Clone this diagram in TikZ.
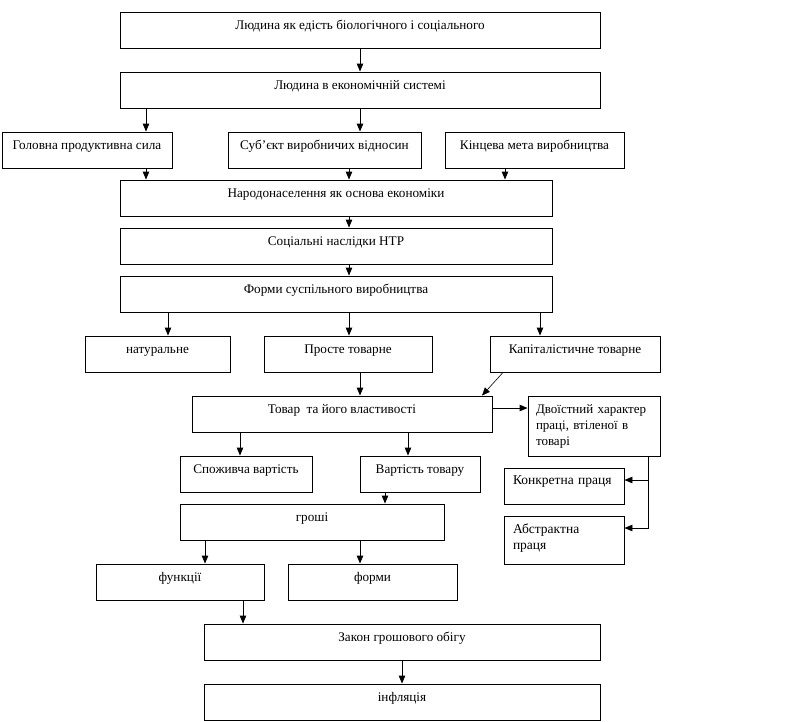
\documentclass[tikz,border=0pt]{standalone}
\usepackage{fontspec}
\setmainfont{Liberation Serif}
\usetikzlibrary{arrows.meta}
\begin{document}
\begin{tikzpicture}[x=1pt,y=-1pt,
  box/.style={draw, line width=0.9pt, inner xsep=2pt, inner ysep=0pt,
    text height=17pt, text depth=19pt, font=\fontsize{13.2}{15}\selectfont},
  lbox/.style={draw, line width=0.9pt, inner xsep=9pt, inner ysep=0pt, align=left,
    text height=17pt, font=\fontsize{13.5}{16}\selectfont},
  arr/.style={line width=0.9pt, -{Triangle[length=8pt,width=6.5pt]}},
  thinarr/.style={line width=0.6pt, -{Triangle[length=8pt,width=6.5pt]}}]
\useasboundingbox (0,0) rectangle (805,721);
\fill[white] (0,0) rectangle (805,721);

\node[box, minimum width=480] (b1) at (360,30) {Людина як едість біологічного і соціального};
\node[box, minimum width=480] (b2) at (360,90) {Людина в економічній системі};
\node[box, minimum width=170] (b3) at (87,150) {Головна продуктивна сила};
\node[box, minimum width=193] (b4) at (324.5,150) {Суб'єкт виробничих відносин};
\node[box, minimum width=179] (b5) at (534.5,150) {Кінцева мета виробництва};
\node[box, minimum width=432] (b6) at (336,198) {Народонаселення як основа економіки};
\node[box, minimum width=432] (b7) at (336,246) {Соціальні наслідки НТР};
\node[box, minimum width=432] (b8) at (336,294) {Форми суспільного виробництва};
\node[box, minimum width=145] (b9) at (157.5,354) {натуральне};
\node[box, minimum width=168] (b10) at (348,354) {Просте товарне};
\node[box, minimum width=170] (b11) at (575,354) {Капіталістичне товарне};
\node[box, minimum width=300] (b12) at (342,414) {Товар \ та його властивості};
\node[lbox, inner xsep=8pt, text width=116, text depth=43pt, font=\fontsize{13}{16}\selectfont] (b13) at (594,426) {Двоїстний характер\\праці, втіленої в\\товарі};
\node[box, minimum width=132] (b14) at (246,474) {Споживча вартість};
\node[box, minimum width=120] (b15) at (420,474) {Вартість товару};
\node[lbox, text width=102, text depth=20pt, text height=16pt] (b16) at (564,486) {Конкретна праця};
\node[box, minimum width=264] (b17) at (312,522) {гроші};
\node[lbox, text width=102, text depth=31pt] (b18) at (564,540) {Абстрактна\\праця};
\node[box, minimum width=168] (b19) at (180,582) {функції};
\node[box, minimum width=169] (b20) at (372.5,582) {форми};
\node[box, minimum width=396] (b21) at (402,642) {Закон грошового обігу};
\node[box, minimum width=396] (b22) at (402,702) {інфляція};

\coordinate (x146) at (146,0);
\coordinate (x349) at (349,0);
\coordinate (x360) at (360,0);
\coordinate (x505) at (505,0);
\coordinate (x168) at (168,0);
\coordinate (x540) at (540,0);
\coordinate (x503) at (503,0);
\coordinate (x482) at (482,0);
\coordinate (x240) at (240,0);
\coordinate (x408) at (408,0);
\coordinate (x385) at (385,0);
\coordinate (x648) at (648,0);
\coordinate (x205) at (205,0);
\coordinate (x243) at (243,0);
\coordinate (x402) at (402,0);
\coordinate (y408) at (0,408);
\coordinate (y528) at (0,528);
\coordinate (j) at (648,480);

\draw[arr] (b1.south -| x360) -- (b2.north -| x360);
\draw[arr] (b2.south -| x146) -- (b3.north -| x146);
\draw[arr] (b2.south -| x360) -- (b4.north -| x360);
\draw[arr] (b3.south -| x146) -- (b6.north -| x146);
\draw[arr] (b4.south -| x349) -- (b6.north -| x349);
\draw[arr] (b5.south -| x505) -- (b6.north -| x505);
\draw[arr] (b6.south -| x349) -- (b7.north -| x349);
\draw[arr] (b7.south -| x349) -- (b8.north -| x349);
\draw[arr] (b8.south -| x168) -- (b9.north -| x168);
\draw[arr] (b8.south -| x349) -- (b10.north -| x349);
\draw[arr] (b8.south -| x540) -- (b11.north -| x540);
\draw[arr] (b10.south -| x360) -- (b12.north -| x360);
\draw[thinarr] (b11.south -| x503) -- (b12.north -| x482);
\draw[arr] (b12.east |- y408) -- (b13.west |- y408);
\draw[arr] (b12.south -| x240) -- (b14.north -| x240);
\draw[arr] (b12.south -| x408) -- (b15.north -| x408);
\draw[arr] (b15.south -| x385) -- (b17.north -| x385);
\draw[arr] (b13.south -| x648) |- (b18.east |- y528);
\draw[arr] (j) -- (b16.east |- j);
\draw[arr] (b17.south -| x205) -- (b19.north -| x205);
\draw[arr] (b17.south -| x360) -- (b20.north -| x360);
\draw[arr] (b19.south -| x243) -- (b21.north -| x243);
\draw[arr] (b21.south -| x402) -- (b22.north -| x402);
\end{tikzpicture}
\end{document}
